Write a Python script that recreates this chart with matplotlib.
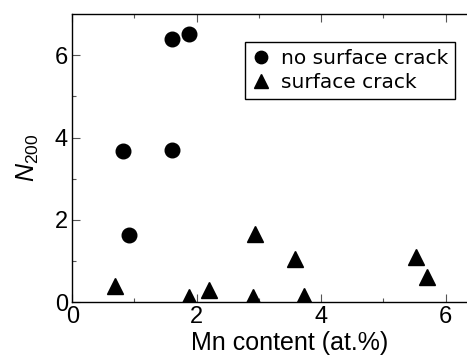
import matplotlib
matplotlib.use("Agg")
import matplotlib.pyplot as plt

# Data
mn_no_crack = [0.82, 0.91, 1.60, 1.61, 1.87]
n_no_crack = [3.67, 1.63, 3.71, 6.40, 6.51]

mn_crack = [0.68, 1.88, 2.20, 2.91, 2.93, 3.58, 3.72, 5.53, 5.70]
n_crack = [0.39, 0.12, 0.31, 0.12, 1.67, 1.06, 0.15, 1.11, 0.62]

plt.rcParams["font.family"] = ["Liberation Sans", "DejaVu Sans"]
plt.rcParams["mathtext.fontset"] = "custom"
plt.rcParams["mathtext.rm"] = "Liberation Sans"
plt.rcParams["mathtext.it"] = "Liberation Sans:italic"

fig = plt.figure(figsize=(4.67, 3.59), dpi=100)
# axes run past the right edge of the picture (the original is cropped)
ax = fig.add_axes([72.2 / 467, 56.7 / 359, 435.75 / 467, 288.3 / 359])

ax.plot(mn_no_crack, n_no_crack, "o", color="black", markersize=10.5,
        label="no surface crack")
ax.plot(mn_crack, n_crack, "^", color="black", markersize=12,
        label="surface crack")

ax.set_xlim(0, 7)
ax.set_ylim(0, 7)
ax.set_xticks([0, 2, 4, 6])
ax.set_xticks([1, 3, 5], minor=True)
ax.set_yticks([0, 2, 4, 6])
ax.set_yticks([1, 3, 5], minor=True)

ax.tick_params(which="both", direction="in", top=True, right=True,
               labelsize=17, width=0.8, color="#555555")
ax.tick_params(which="major", length=6, pad=3)
ax.tick_params(which="minor", length=3)
for s in ax.spines.values():
    s.set_linewidth(1.0)

ax.set_xlabel("Mn content (at.%)", fontsize=18, labelpad=2)
ax.set_ylabel(r"$\mathit{N}_{200}$", fontsize=18, labelpad=10)

leg = ax.legend(loc="upper right", bbox_to_anchor=(455 / 467, 1 - 41.7 / 359),
                bbox_transform=fig.transFigure, borderaxespad=0,
                fancybox=False, framealpha=1, edgecolor="black",
                prop={"family": "DejaVu Sans", "size": 14.5},
                handlelength=0.8, handletextpad=0.6, labelspacing=0.25,
                borderpad=0.35, markerscale=0.85)
leg.get_frame().set_linewidth(1.0)

fig.savefig("out.png", dpi=100)
